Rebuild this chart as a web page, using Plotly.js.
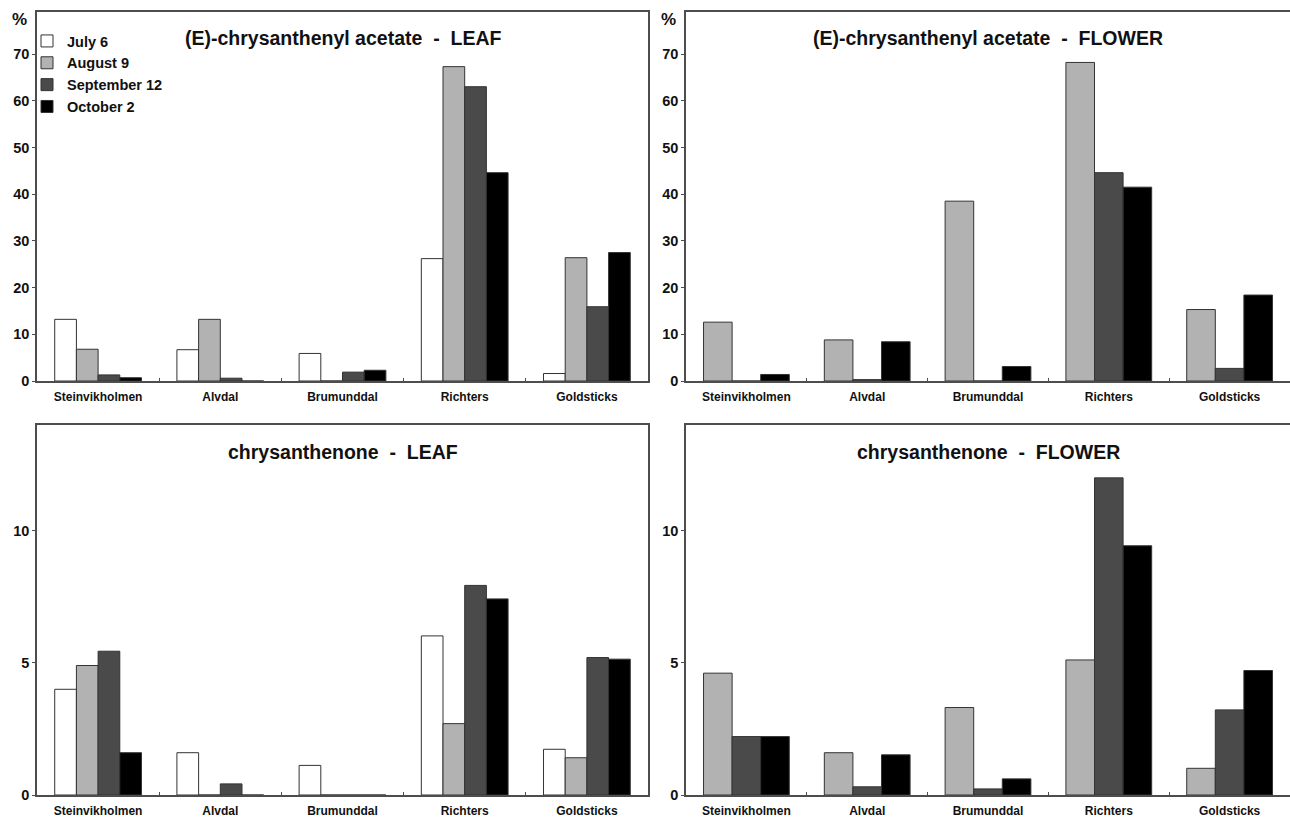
<!DOCTYPE html>
<html>
<head>
<meta charset="utf-8">
<script src="https://cdn.plot.ly/plotly-3.0.1.min.js"></script>
<style>
  html, body { margin: 0; padding: 0; background: #ffffff; }
  #chart { width: 1290px; height: 817px; }
</style>
</head>
<body>
<div id="chart"></div>
<script>
// ---- data ----
const categories = ['Steinvikholmen', 'Alvdal', 'Brumunddal', 'Richters', 'Goldsticks'];
const seriesNames = ['July 6', 'August 9', 'September 12', 'October 2'];

// (E)-chrysanthenyl acetate - LEAF
const acetateLeafJul = [13.2, 6.7, 5.9, 26.2, 1.6];
const acetateLeafAug = [6.8, 13.2, 0, 67.3, 26.4];
const acetateLeafSep = [1.3, 0.6, 1.9, 63.0, 15.9];
const acetateLeafOct = [0.7, 0, 2.3, 44.6, 27.5];

// (E)-chrysanthenyl acetate - FLOWER
const acetateFlowerAug = [12.6, 8.8, 38.5, 68.2, 15.3];
const acetateFlowerSep = [0, 0.3, 0, 44.6, 2.7];
const acetateFlowerOct = [1.4, 8.4, 3.1, 41.5, 18.4];

// chrysanthenone - LEAF
const chrysLeafJul = [4.0, 1.6, 1.12, 6.02, 1.73];
const chrysLeafAug = [4.9, 0, 0, 2.7, 1.41];
const chrysLeafSep = [5.44, 0.42, 0, 7.93, 5.2];
const chrysLeafOct = [1.6, 0, 0, 7.42, 5.14];

// chrysanthenone - FLOWER
const chrysFlowerAug = [4.61, 1.6, 3.31, 5.11, 1.01];
const chrysFlowerSep = [2.21, 0.31, 0.23, 12.0, 3.22];
const chrysFlowerOct = [2.21, 1.52, 0.61, 9.43, 4.71];

const panelTitles = [
  '(E)-chrysanthenyl acetate\u00a0 -\u00a0 LEAF',
  '(E)-chrysanthenyl acetate\u00a0 -\u00a0 FLOWER',
  'chrysanthenone\u00a0 -\u00a0 LEAF',
  'chrysanthenone\u00a0 -\u00a0 FLOWER'
];

// ---- styles ----
const fills = ['#ffffff', '#b2b2b2', '#4a4a4a', '#000000'];
const FONT = 'Liberation Sans, Arial, sans-serif';

function bar(values, si, ax, showLegend) {
  return {
    type: 'bar',
    x: categories,
    y: values,
    name: seriesNames[si],
    legendgroup: seriesNames[si],
    showlegend: showLegend,
    xaxis: 'x' + ax,
    yaxis: 'y' + ax,
    marker: { color: fills[si], line: { color: '#333333', width: 1 } },
    hoverinfo: 'x+y+name'
  };
}

const data = [
  bar(acetateLeafJul, 0, '', true),
  bar(acetateLeafAug, 1, '', true),
  bar(acetateLeafSep, 2, '', true),
  bar(acetateLeafOct, 3, '', true),

  bar(acetateFlowerAug, 1, '2', false),
  bar(acetateFlowerSep, 2, '2', false),
  bar(acetateFlowerOct, 3, '2', false),

  bar(chrysLeafJul, 0, '3', false),
  bar(chrysLeafAug, 1, '3', false),
  bar(chrysLeafSep, 2, '3', false),
  bar(chrysLeafOct, 3, '3', false),

  bar(chrysFlowerAug, 1, '4', false),
  bar(chrysFlowerSep, 2, '4', false),
  bar(chrysFlowerOct, 3, '4', false)
];

const W = 1290, H = 817;
const leftDom = [37 / W, 648 / W];
const rightDom = [686 / W, 1.0];
const topDom = [1 - 381 / H, 1 - 12 / H];
const botDom = [1 - 795 / H, 1 - 425 / H];

function xa(domain, anchor) {
  return {
    domain: domain, anchor: anchor,
    type: 'category',
    showline: true, mirror: true, linecolor: '#4d4d4d', linewidth: 1.5,
    ticks: 'inside', ticklen: 3, tickcolor: '#4d4d4d', tickson: 'boundaries',
    ticklabelstandoff: 4,
    showgrid: false, zeroline: false,
    tickfont: { family: FONT, size: 12, color: '#111111', weight: 'bold' },
    fixedrange: true
  };
}
function ya(domain, anchor, range, dtick) {
  return {
    domain: domain, anchor: anchor,
    range: range, dtick: dtick, tick0: 0,
    showline: true, mirror: true, linecolor: '#4d4d4d', linewidth: 1.5,
    ticks: 'outside', ticklen: 3, tickcolor: '#4d4d4d',
    showgrid: false, zeroline: false,
    tickfont: { family: FONT, size: 14.5, color: '#111111', weight: 'bold' },
    fixedrange: true
  };
}

const titleFont = { family: FONT, size: 19.5, color: '#111111', weight: 'bold' };
function titleAnn(text, ax, y) {
  return { text: text, xref: 'x' + ax + ' domain', yref: 'y' + ax + ' domain', x: 0.5, y: y,
    xanchor: 'center', yanchor: 'middle', showarrow: false, font: titleFont };
}
const pctFont = { family: FONT, size: 17, color: '#111111', weight: 'bold' };
const annotations = [
  titleAnn(panelTitles[0], '', 0.93),
  titleAnn(panelTitles[1], '2', 0.93),
  titleAnn(panelTitles[2], '3', 0.928),
  titleAnn(panelTitles[3], '4', 0.928),
  { text: '%', xref: 'paper', yref: 'paper', x: 19 / W, y: 1 - 20 / H, xanchor: 'center', yanchor: 'middle',
    showarrow: false, font: pctFont },
  { text: '%', xref: 'paper', yref: 'paper', x: 668 / W, y: 1 - 20 / H, xanchor: 'center', yanchor: 'middle',
    showarrow: false, font: pctFont }
];

const layout = {
  width: W, height: H,
  margin: { l: 0, r: 0, t: 0, b: 0 },
  paper_bgcolor: '#ffffff', plot_bgcolor: '#ffffff',
  barmode: 'group', bargap: 0.29, bargroupgap: 0,
  showlegend: true,
  legend: {
    x: 27 / W, y: 1 - 25 / H, xanchor: 'left', yanchor: 'top',
    bgcolor: 'rgba(0,0,0,0)', borderwidth: 0,
    font: { family: FONT, size: 14.5, color: '#111111', weight: 'bold' },
    traceorder: 'normal', tracegroupgap: 0
  },
  xaxis: xa(leftDom, 'y'),
  yaxis: ya(topDom, 'x', [0, 79], 10),
  xaxis2: xa(rightDom, 'y2'),
  yaxis2: ya(topDom, 'x2', [0, 79], 10),
  xaxis3: xa(leftDom, 'y3'),
  yaxis3: ya(botDom, 'x3', [0, 14], 5),
  xaxis4: xa(rightDom, 'y4'),
  yaxis4: ya(botDom, 'x4', [0, 14], 5),
  annotations: annotations
};

Plotly.newPlot('chart', data, layout, { displayModeBar: false });
</script>
</body>
</html>
